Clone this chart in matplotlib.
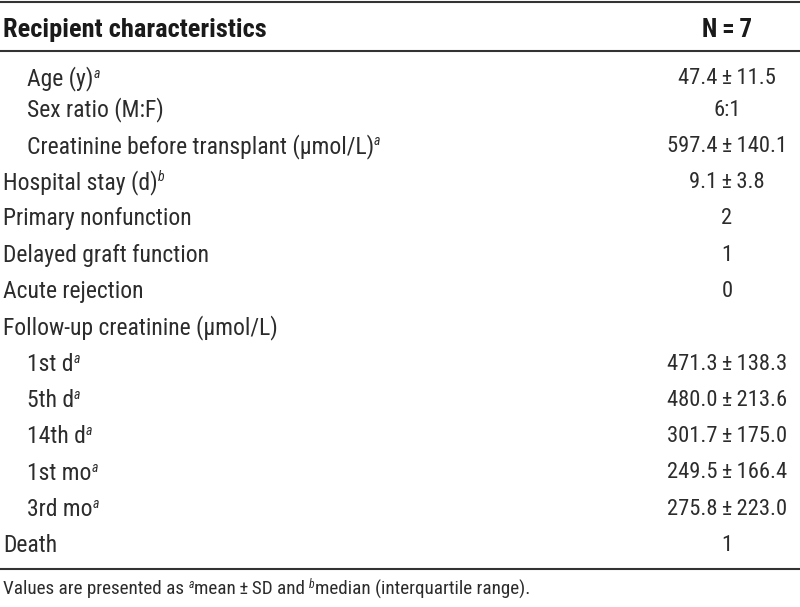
import matplotlib
matplotlib.use("Agg")
import matplotlib.pyplot as plt
from matplotlib import font_manager as fm

# ---- data ----
header_left = "Recipient characteristics"
header_right = "N\u2009=\u20097"
labels = ["Age (y)", "Sex ratio (M:F)", "Creatinine before transplant (\u00b5mol/L)",
          "Hospital stay (d)", "Primary nonfunction", "Delayed graft function",
          "Acute rejection", "Follow-up creatinine (\u00b5mol/L)",
          "1st d", "5th d", "14th d", "1st mo", "3rd mo", "Death"]
superscripts = ["a", "", "a", "b", "", "", "", "", "a", "a", "a", "a", "a", ""]
indent = [1, 1, 1, 0, 0, 0, 0, 0, 1, 1, 1, 1, 1, 0]
values = ["47.4\u2009\u00b1\u200911.5", "6:1", "597.4\u2009\u00b1\u2009140.1", "9.1\u2009\u00b1\u20093.8",
          "2", "1", "0", "", "471.3\u2009\u00b1\u2009138.3", "480.0\u2009\u00b1\u2009213.6",
          "301.7\u2009\u00b1\u2009175.0", "249.5\u2009\u00b1\u2009166.4", "275.8\u2009\u00b1\u2009223.0", "1"]
footnote_parts = [("Values are presented as ", False), ("a", True),
                  ("mean\u2009\u00b1\u2009SD and ", False), ("b", True),
                  ("median (interquartile range).", False)]

# ---- font selection ----
def pick(cands):
    for c in cands:
        try:
            fm.findfont(fm.FontProperties(family=c), fallback_to_default=False)
            return c
        except Exception:
            continue
    return "DejaVu Sans"

main_font = pick(["Liberation Sans Narrow", "Roboto Condensed", "Open Sans Condensed", "Liberation Sans", "Roboto"])
fam = [main_font, "DejaVu Sans"]

W, H = 800, 607
fig = plt.figure(figsize=(W / 100, H / 100), dpi=100)
ax = fig.add_axes([0, 0, 1, 1])
ax.set_xlim(0, W)
ax.set_ylim(H, 0)
ax.axis("off")

txt_col = "#2c2c2c"
line_col = "#333333"
fs_lab = 17.0
fs_val = 16.2
fs_head = 19.0
fs_head_r = 18.0
sup_fs = 10
val_x = 727

renderer = fig.canvas.get_renderer()
inv = ax.transData.inverted()

def right_edge(t):
    bb = t.get_window_extent(renderer=renderer)
    return inv.transform((bb.x1, bb.y1))[0]

# lines
for y in [1.5, 51, 569]:
    ax.plot([0, W], [y, y], color=line_col, lw=1.5, solid_capstyle="butt")

# header
ax.text(3, 30, header_left, fontsize=fs_head, fontweight="bold", family=fam,
        color="#1a1a1a", va="center", ha="left")
ax.text(val_x, 30, header_right, fontsize=fs_head_r, fontweight="bold", family=fam,
        color="#1a1a1a", va="center", ha="center")

# rows
for i, (lab, sup, ind, val) in enumerate(zip(labels, superscripts, indent, values)):
    y = 79 if i == 0 else 110 + (i - 1) * 36.3
    x = 27 if ind else 3
    t = ax.text(x, y, lab, fontsize=fs_lab, family=fam, color=txt_col,
                va="center", ha="left")
    if sup:
        xe = right_edge(t)
        ax.text(xe, y - 5.5, sup, fontsize=sup_fs, family=fam, style="italic",
                color=txt_col, va="center", ha="left")
    if val:
        ax.text(val_x, y, val, fontsize=fs_val, family=fam, color=txt_col,
                va="center", ha="center")

# footnote
x = 3
yf = 589
for s, is_sup in footnote_parts:
    if is_sup:
        t = ax.text(x, yf - 4.5, s, fontsize=8.5, family=fam, style="italic",
                    color=txt_col, va="center", ha="left")
    else:
        t = ax.text(x, yf, s, fontsize=13.8, family=fam, color=txt_col,
                    va="center", ha="left")
    x = right_edge(t)

fig.savefig("out.png", dpi=100)
